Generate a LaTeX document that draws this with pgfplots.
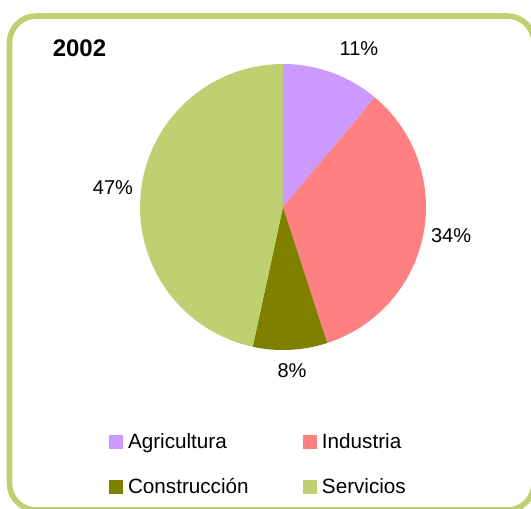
\documentclass[border=0pt]{standalone}
\usepackage{pgfplots}
\pgfplotsset{compat=1.18}
\usepackage{fontspec}
\setmainfont{Liberation Sans}
\definecolor{agri}{HTML}{CC99FF}
\definecolor{indu}{HTML}{FF8080}
\definecolor{cons}{HTML}{808000}
\definecolor{serv}{HTML}{BFD073}
% values (percent)
\def\vA{11.1}
\def\vB{33.9}
\def\vC{8.4}
\def\vD{46.6}
\pgfmathsetmacro{\aA}{90}
\pgfmathsetmacro{\aB}{\aA-3.6*\vA}
\pgfmathsetmacro{\aC}{\aB-3.6*\vB}
\pgfmathsetmacro{\aD}{\aC-3.6*\vC}
\pgfmathsetmacro{\aE}{\aD-3.6*\vD}
\begin{document}
\begin{tikzpicture}[x=0.75pt,y=0.75pt]
\useasboundingbox (0,0) rectangle (531,508);
\begin{scope}
\clip (0,0) rectangle (531,508);
\draw[serv, line width=4.2pt, rounded corners=20pt] (9.5,-2) rectangle (534,492);
\node[font=\bfseries\fontsize{18}{21}\selectfont] at (79.5,460) {2002};
\begin{axis}[
  at={(212.25pt,225.75pt)}, anchor=center,
  width=214.5pt, height=214.5pt, scale only axis,
  xmin=-1, xmax=1, ymin=-1, ymax=1,
  hide axis, clip=false,
  font=\fontsize{15}{18}\selectfont,
  legend columns=2,
  legend cell align=left,
  legend image code/.code={\fill[#1] (0pt,-5.25pt) rectangle (10.5pt,5.25pt); \path (12pt,0pt);},
  legend style={draw=none, fill=none, at={(-0.122,-0.273)}, anchor=north west,
    font=\fontsize{15.5}{18}\selectfont, row sep=17pt,
    /tikz/every even column/.append style={column sep=39pt}},
]
\addplot[fill=agri, draw=none, domain=\aB:\aA, samples=60, variable=\t] ({cos(\t)},{sin(\t)}) -- (axis cs:0,0) -- cycle;
\addlegendentry{Agricultura}
\addplot[fill=indu, draw=none, domain=\aC:\aB, samples=100, variable=\t] ({cos(\t)},{sin(\t)}) -- (axis cs:0,0) -- cycle;
\addlegendentry{Industria}
\addplot[fill=cons, draw=none, domain=\aD:\aC, samples=40, variable=\t] ({cos(\t)},{sin(\t)}) -- (axis cs:0,0) -- cycle;
\addlegendentry{Construcción}
\addplot[fill=serv, draw=none, domain=\aE:\aD, samples=120, variable=\t] ({cos(\t)},{sin(\t)}) -- (axis cs:0,0) -- cycle;
\addlegendentry{Servicios}
\node at (axis cs:0.531,1.105) {11\%};
\node at (axis cs:1.175,-0.203) {34\%};
\node at (axis cs:0.063,-1.147) {8\%};
\node at (axis cs:-1.189,0.133) {47\%};
\end{axis}
\end{scope}
\end{tikzpicture}
\end{document}
